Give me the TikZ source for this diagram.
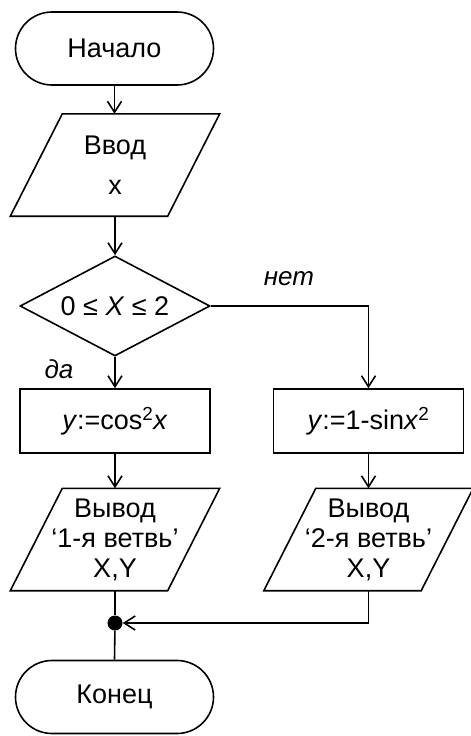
\documentclass[tikz,border=0pt]{standalone}
\usepackage{fontspec}
\setmainfont{Liberation Sans}
\usetikzlibrary{shapes.geometric,shapes.misc,arrows.meta}
\begin{document}
\begin{tikzpicture}[x=1pt,y=-1pt,
  line/.style={line width=1.6pt},
  arr/.style={line, -{Straight Barb[length=11pt,width=14pt]}},
  txt/.style={font=\fontsize{27}{30}\selectfont},
  term/.style={draw, line, rounded rectangle, minimum width=198pt, minimum height=73pt, inner sep=0pt, txt},
  proc/.style={draw, line, rectangle, minimum width=190pt, minimum height=64pt, inner sep=0pt, txt},
  dec/.style={draw, line, diamond, minimum width=190pt, minimum height=100pt, inner sep=0pt, aspect=2, txt},
  io/.style={rectangle, minimum width=209pt, minimum height=102pt, inner sep=0pt, align=center, txt},
  lbl/.style={font=\fontsize{26}{30}\selectfont\itshape},
  dot/.style={circle, fill, inner sep=0pt, minimum size=15pt}
]
\useasboundingbox (0,0) rectangle (471,736);

\node[term] (start) at (114.5,48.5) {Начало};
\node[io] (in) at (115,165) {Ввод\\[10pt]x};
\node[dec] (cond) at (115,306) {0\;≤\;\textit{X}\;≤\;2};
\node[proc] (p1) at (115,421) {\textit{y}:=cos\textsuperscript{2}\textit{x}};
\node[proc] (p2) at (368.5,421) {\textit{y}:=1-sin\textit{x}\textsuperscript{2}};
\node[io] (out1) at (115,539.5) {Вывод\\‘1-я ветвь’\\X,Y};
\node[io] (out2) at (368.5,539.5) {Вывод\\‘2-я ветвь’\\X,Y};
\node[dot] (j) at (115,623) {};
\node[term] (end) at (114.5,697) {Конец};
\coordinate (c1) at (368.5,306);
\coordinate (c2) at (368.5,623);

\node[lbl] (no) at (289,279) {нет};
\node[lbl] (yes) at (59,369) {да};

\foreach \n in {in,out1,out2}
  \draw[line] ([xshift=52pt]\n.north west) -- (\n.north east)
     -- ([xshift=-52pt]\n.south east) -- (\n.south west) -- cycle;

\draw[arr] (start.south) -- (start.south |- in.north);
\draw[arr] (in.south) -- (cond.north);
\draw[arr] (cond.south) -- (p1.north);
\draw[arr] (cond.east) -- (c1) -- (p2.north);
\draw[arr] (p1.south) -- (out1.north);
\draw[arr] (p2.south) -- (out2.north);
\draw[line] (out1.south) -- (j);
\draw[arr] (out2.south) -- (c2) -- (j);
\draw[line] (j) -- (end.north);
\end{tikzpicture}
\end{document}
